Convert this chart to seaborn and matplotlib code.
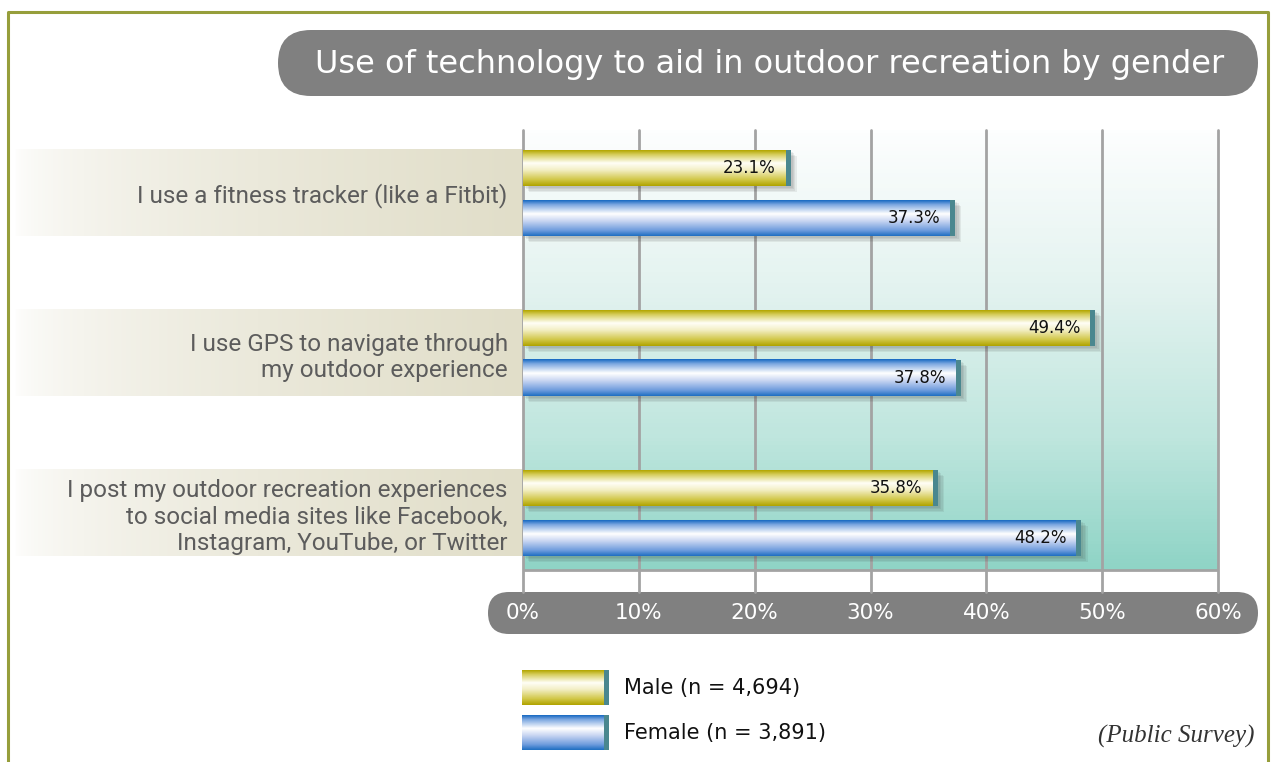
import numpy as np
import pandas as pd
import seaborn as sns
import matplotlib.pyplot as plt
import matplotlib.patheffects as pe
from matplotlib.colors import LinearSegmentedColormap, to_rgba
from matplotlib.patches import FancyBboxPatch, Rectangle
from matplotlib.transforms import blended_transform_factory

# chart data
items = ["I use a fitness tracker (like a Fitbit)",
         "I use GPS to navigate through\nmy outdoor experience",
         "I post my outdoor recreation experiences\nto social media sites like Facebook,\nInstagram, YouTube, or Twitter"]
male = [23.1, 49.4, 35.8]
female = [37.3, 37.8, 48.2]
genders = ["Male (n = 4,694)", "Female (n = 3,891)"]
xticks = [0, 10, 20, 30, 40, 50, 60]
title = "Use of technology to aid in outdoor recreation by gender"
source = "(Public Survey)"

df = pd.DataFrame({
    "item": items * 2,
    "pct": male + female,
    "gender": [genders[0]] * 3 + [genders[1]] * 3,
})

# gradients for the bars (top -> bottom)
male_cmap = LinearSegmentedColormap.from_list("m", [
    (0.0, "#b3a600"), (0.12, "#d6cd5c"), (0.36, "#fffef6"),
    (0.55, "#f3efc6"), (0.82, "#d2c84a"), (1.0, "#b0a300")])
female_cmap = LinearSegmentedColormap.from_list("f", [
    (0.0, "#1769c2"), (0.12, "#7aa6e0"), (0.38, "#ffffff"),
    (0.58, "#c9d6f2"), (0.85, "#6d9bdd"), (1.0, "#1f6fc2")])
cmaps = [male_cmap, female_cmap]
cap_color = "#4a878f"


def vgrad(cmap, n=120):
    return cmap(np.linspace(0, 1, n))[:, None, :]


sns.set_style("white")
plt.rcParams["font.family"] = ["DejaVu Sans"]

fig = plt.figure(figsize=(12.77, 7.62), dpi=100)
W, H = 1277, 762

# background layer in pixel coordinates
bg = fig.add_axes([0, 0, 1, 1], zorder=0)
bg.set_axis_off()

# main plot axes
ax = fig.add_axes([523 / W, (H - 592) / H, 695 / W, 462 / H], zorder=1)
ax.set_facecolor("none")

sns.barplot(data=df, x="pct", y="item", hue="gender", orient="h",
            width=0.625, gap=0.28, legend=False, errorbar=None,
            palette=["#d6cd5c", "#7aa6e0"], ax=ax)

ax.set_xlim(0, 60)
ax.set_ylim(2.49375, -0.39375)
y_grad_bottom = 2.35625

# plot-area gradient
area_cmap = LinearSegmentedColormap.from_list("a", [
    (0.0, "#fdfefe"), (0.35, "#e4f3f0"), (0.7, "#bfe6de"), (1.0, "#8fd4c6")])
ax.imshow(vgrad(area_cmap), extent=(0, 60, y_grad_bottom, ax.get_ylim()[1]),
          origin="upper", aspect="auto", zorder=0.1)
ax.axhline(y_grad_bottom, color="#a3a3a3", lw=2, zorder=0.6)

ax.set_xticks(xticks)
ax.set_xticklabels([f"{t}%" for t in xticks])
ax.grid(axis="x", color="#a3a3a3", lw=2)
ax.grid(axis="y", visible=False)
ax.set_axisbelow(True)
for gl in ax.get_xgridlines():
    gl.set_clip_on(False)
sns.despine(ax=ax, left=True, bottom=True)
ax.set_xlabel("")
ax.set_ylabel("")
ax.tick_params(axis="x", length=0, pad=8, labelsize=15.5, labelcolor="white")
ax.tick_params(axis="y", length=0, pad=11, labelsize=17.5, labelcolor="#5c5c5c")
for t in ax.get_yticklabels():
    t.set_fontfamily("Roboto")
    t.set_linespacing(1.2)

# gradient bars, caps, soft shadows, value labels
cap_w = 0.43
shadow = [pe.SimplePatchShadow(offset=(k, -k), shadow_rgbFace="#333333", alpha=0.08)
          for k in (4.5, 3.5, 2.5, 1.5)]
for container, cmap, vals in zip(ax.containers, cmaps, [male, female]):
    for bar, v in zip(container.patches, vals):
        x0, y0 = bar.get_x(), bar.get_y()
        w, h = bar.get_width(), bar.get_height()
        bar.set_edgecolor("none")
        bar.set_zorder(2)
        bar.set_path_effects(shadow + [pe.Normal()])
        ax.imshow(vgrad(cmap), extent=(x0, x0 + w - cap_w, y0 + h, y0),
                  origin="upper", aspect="auto", zorder=2.5)
        ax.add_patch(Rectangle((x0 + w - cap_w, y0), cap_w, h,
                               facecolor=cap_color, edgecolor="none", zorder=2.6))
        ax.annotate(f"{v:.1f}%", xy=(x0 + w, y0 + h / 2), xytext=(-15, 0),
                    textcoords="offset pixels", ha="right", va="center",
                    fontsize=12, color="#111111", zorder=3)

ax.set_xlim(0, 60)
ax.set_ylim(2.49375, -0.39375)

# beige label bands behind the category labels
band_t = np.linspace(0, 1, 300) ** 0.55
band_rgba = np.zeros((1, 300, 4))
c1 = np.array(to_rgba("#ffffff"))
c2 = np.array(to_rgba("#e1dec9"))
for i, t in enumerate(band_t):
    band_rgba[0, i] = c1 * (1 - t) + c2 * t
blend = blended_transform_factory(bg.transData, ax.transData)
for i in range(len(items)):
    im = bg.imshow(band_rgba, extent=(14, 523, i + 0.27, i - 0.27),
                   origin="upper", aspect="auto", zorder=1)
    im.set_transform(blend)

# title pill
bg.add_patch(FancyBboxPatch((278, 30), 980, 66, boxstyle="round,pad=0,rounding_size=33",
                            facecolor="#808080", edgecolor="none", zorder=2))
bg.text(770, 64, title, color="white", fontsize=23, ha="center", va="center", zorder=3)

# tick pill
bg.add_patch(FancyBboxPatch((488, 592), 770, 42, boxstyle="round,pad=0,rounding_size=21",
                            facecolor="#808080", edgecolor="none", zorder=2))

# frame
bg.plot([8, 8, 1268, 1268], [H, 12, 12, H], color="#969e3b", lw=2.2, zorder=2)

# legend
for j, (cmap, lab) in enumerate(zip(cmaps, genders)):
    top = 670 + 45 * j
    bg.imshow(vgrad(cmap), extent=(522, 604, top + 35, top), origin="upper",
              aspect="auto", zorder=2)
    bg.add_patch(Rectangle((604, top), 5, 35, facecolor=cap_color, edgecolor="none", zorder=2))
    bg.text(624, top + 18, lab, fontsize=15, color="#111111", va="center", ha="left", zorder=3)

bg.text(1255, 736, source, fontsize=18, style="italic", family="Liberation Serif",
        color="#333333", ha="right", va="center", zorder=3)

bg.set_xlim(0, W)
bg.set_ylim(H, 0)

fig.savefig("out.png", dpi=100)
